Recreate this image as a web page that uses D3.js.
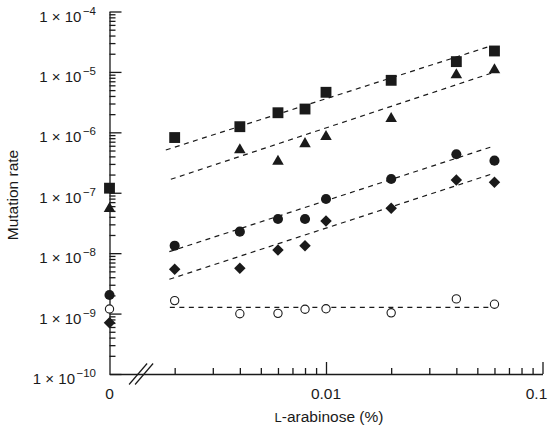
<!DOCTYPE html>
<html><head><meta charset="utf-8">
<script src="https://cdn.jsdelivr.net/npm/d3@7"></script>
<style>
body{margin:0;background:#fff}
text{font-family:"Liberation Sans",Arial,Helvetica,sans-serif;fill:#1a1a1a}
</style>
</head><body>
<svg id="chart" width="556" height="431"></svg>
<script>
// ---- data ----
const arabinose = [0, 0.002, 0.004, 0.006, 0.008, 0.01, 0.02, 0.04, 0.06];
const squareRates   = [1.19e-7, 8.2e-7, 1.24e-6, 2.11e-6, 2.43e-6, 4.6e-6, 7.26e-6, 1.48e-5, 2.22e-5];
const triangleRates = [5.47e-8, null, 5.1e-7, 3.29e-7, 6.46e-7, 8.47e-7, 1.68e-6, 8.9e-6, 1.08e-5];
const circleRates   = [2.03e-9, 1.33e-8, 2.27e-8, 3.68e-8, 3.68e-8, 7.88e-8, 1.69e-7, 4.33e-7, 3.4e-7];
const diamondRates  = [7.07e-10, 5.41e-9, 5.62e-9, 1.13e-8, 1.33e-8, 3.41e-8, 5.53e-8, 1.63e-7, 1.49e-7];
const openRates     = [1.19e-9, 1.64e-9, 9.95e-10, 1.01e-9, 1.18e-9, 1.2e-9, 1.03e-9, 1.75e-9, 1.43e-9];

// fitted dashed lines: [x, rate] at start and end
const squareFit   = [[0.00182, 5.1e-7], [0.058, 2.7e-5]];
const triangleFit = [[0.00192, 1.67e-7], [0.0589, 9.7e-6]];
const circleFit   = [[0.00189, 1.06e-8], [0.0583, 5.78e-7]];
const diamondFit  = [[0.00189, 3.7e-9], [0.0583, 2.04e-7]];
const openFit     = [[0.00190, 1.27e-9], [0.0582, 1.27e-9]];

const yDecades = [1e-10, 1e-9, 1e-8, 1e-7, 1e-6, 1e-5, 1e-4];
const yExponents = ["−10", "−9", "−8", "−7", "−6", "−5", "−4"];
const xMajorTicks = [0.01, 0.1];
const xMajorLabels = ["0.01", "0.1"];
const xZeroLabel = "0";

// ---- scales ----
const svg = d3.select("#chart");
const x = d3.scaleLog().domain([0.001, 0.1]).range([109.5, 542.5]);
const y = d3.scaleLog().domain([1e-10, 1e-4]).range([374, 11.5]);
const xPos = v => v === 0 ? x(0.001) : x(v);
const ink = "#1a1a1a";

// ---- y axis ----
const yMinor = [];
yDecades.slice(0, -1).forEach(d => { for (let k = 2; k <= 9; k++) yMinor.push(d * k); });

const gy = svg.append("g").attr("transform", `translate(${x(0.001)},0)`);
gy.call(d3.axisLeft(y).tickValues(yDecades).tickSizeInner(-12).tickSizeOuter(0).tickFormat(""));
const gyMinor = svg.append("g").attr("transform", `translate(${x(0.001)},0)`);
gyMinor.call(d3.axisLeft(y).tickValues(yMinor).tickSizeInner(-6).tickSizeOuter(0).tickFormat(""));
gyMinor.select(".domain").remove();

yDecades.forEach((d, i) => {
  const t = svg.append("text").attr("x", 96).attr("y", y(d) + 10)
    .attr("text-anchor", "end").attr("font-size", 15);
  t.append("tspan").text("1 × 10");
  t.append("tspan").attr("font-size", 11.5).attr("dy", -7).attr("dx", 1.5).text(yExponents[i]);
});

// ---- x axis ----
const xMinor = [];
[0.001, 0.01].forEach(d => { for (let k = 2; k <= 9; k++) xMinor.push(d * k); });
const gx = svg.append("g").attr("transform", `translate(0,${y(1e-10)})`);
gx.call(d3.axisBottom(x).tickValues(xMajorTicks).tickSizeInner(-12).tickSizeOuter(0).tickFormat(""));
const gxMinor = svg.append("g").attr("transform", `translate(0,${y(1e-10)})`);
gxMinor.call(d3.axisBottom(x).tickValues(xMinor).tickSizeInner(-6).tickSizeOuter(0).tickFormat(""));
gxMinor.select(".domain").remove();

svg.selectAll(".domain, .tick line").attr("stroke", ink).attr("stroke-width", 1.3);

xMajorTicks.forEach((d, i) => {
  svg.append("text").attr("x", x(d) - (i === 1 ? 6 : 0)).attr("y", y(1e-10) + 25)
    .attr("text-anchor", "middle").attr("font-size", 15.5).text(xMajorLabels[i]);
});
svg.append("text").attr("x", x(0.001)).attr("y", y(1e-10) + 25)
  .attr("text-anchor", "middle").attr("font-size", 15.5).text(xZeroLabel);

// axis break marks between 0 and 0.002
const bx = (x(0.001) + x(0.002)) / 2 - 1, by = y(1e-10);
[-3, 3].forEach(o => {
  svg.append("line").attr("x1", bx + o - 9).attr("y1", by + 10.5)
    .attr("x2", bx + o + 9).attr("y2", by - 10.5)
    .attr("stroke", ink).attr("stroke-width", 1.2);
});

// ---- titles ----
const xt = svg.append("text").attr("x", 329).attr("y", 422)
  .attr("text-anchor", "middle").attr("font-size", 15.5);
xt.append("tspan").attr("font-size", 13).text("L");
xt.append("tspan").text("-arabinose (%)");

svg.append("text").attr("transform", "translate(18,195) rotate(-90)")
  .attr("text-anchor", "middle").attr("font-size", 15.5).text("Mutation rate");

// ---- fitted dashed lines ----
const line = d3.line().x(d => x(d[0])).y(d => y(d[1]));
[squareFit, triangleFit, circleFit, diamondFit, openFit].forEach(f => {
  svg.append("path").attr("d", line(f)).attr("fill", "none")
    .attr("stroke", ink).attr("stroke-width", 1.2).attr("stroke-dasharray", "5,4.5");
});

// ---- markers ----
function plot(rates, symbolType, size, rotate, filled) {
  const pts = arabinose.map((a, i) => ({a, r: rates[i]})).filter(d => d.r != null);
  svg.append("g").selectAll("path").data(pts).join("path")
    .attr("d", d3.symbol().type(symbolType).size(size))
    .attr("transform", d => `translate(${xPos(d.a)},${y(d.r)}) rotate(${rotate})`)
    .attr("fill", filled ? ink : "#fff")
    .attr("stroke", ink).attr("stroke-width", filled ? 0 : 1.1);
}
plot(squareRates, d3.symbolSquare, 118, 0, true);
plot(triangleRates, d3.symbolTriangle, 58, 0, true);
plot(circleRates, d3.symbolCircle, 80, 0, true);
plot(diamondRates, d3.symbolSquare, 66, 45, true);
plot(openRates, d3.symbolCircle, 54, 0, false);
</script>
</body></html>
